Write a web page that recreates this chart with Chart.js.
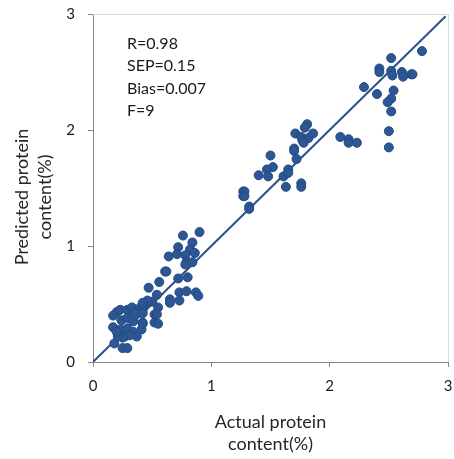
<!DOCTYPE html>
<html>
<head>
<meta charset="utf-8">
<script src="https://cdn.jsdelivr.net/npm/chart.js@4"></script>
<style>
  html, body { margin: 0; padding: 0; background: #fff; }
  #wrap { width: 454px; height: 459px; }
</style>
</head>
<body>
<div id="wrap"><canvas id="plot" width="454" height="459"></canvas></div>
<script>
const actual = [
  0.18, 0.25, 0.29, 0.17, 0.20, 0.23, 0.29, 0.33, 0.40, 0.42, 0.45, 0.50,
  0.52, 0.52, 0.24, 0.29, 0.34, 0.23, 0.29, 0.34, 0.27, 0.31, 0.37, 0.42,
  0.41, 0.35, 0.25, 0.21, 0.17, 0.20,
  0.46, 0.42, 0.42, 0.42, 0.55, 0.54, 0.55, 0.47, 0.56, 0.54,
  0.90, 0.76, 0.84, 0.72, 0.82, 0.71, 0.64, 0.78, 0.86, 0.79, 0.78, 0.84,
  0.61, 0.62, 0.80, 0.72, 0.73, 0.79, 0.87, 0.89, 0.65, 0.65, 0.73,
  1.27, 1.28, 1.27, 1.28, 1.32, 1.32, 1.50, 1.52, 1.47, 1.40, 1.48, 1.61,
  1.65, 1.65, 1.63, 1.71, 1.70, 1.70, 1.72, 1.81, 1.79, 1.76, 1.82, 1.86,
  1.77, 1.78, 1.76, 1.76, 2.09, 2.16, 2.16, 2.23,
  2.78, 2.52, 2.42, 2.42, 2.52, 2.53, 2.61, 2.62, 2.69, 2.70, 2.29, 2.40,
  2.54, 2.52, 2.49, 2.52, 2.50, 2.50
];
const predicted = [
  0.16, 0.12, 0.12, 0.30, 0.43, 0.45, 0.45, 0.47, 0.47, 0.45, 0.51, 0.52,
  0.41, 0.34, 0.36, 0.38, 0.35, 0.28, 0.29, 0.26, 0.22, 0.23, 0.22, 0.34,
  0.28, 0.42, 0.21, 0.22, 0.40, 0.26,
  0.53, 0.51, 0.42, 0.33, 0.47, 0.41, 0.33, 0.64, 0.69, 0.58,
  1.12, 1.09, 1.03, 0.99, 0.97, 0.93, 0.91, 0.92, 0.94, 0.86, 0.84, 0.86,
  0.78, 0.78, 0.73, 0.72, 0.60, 0.61, 0.60, 0.57, 0.54, 0.51, 0.53,
  1.47, 1.47, 1.43, 1.43, 1.34, 1.32, 1.78, 1.68, 1.66, 1.61, 1.60, 1.60,
  1.66, 1.63, 1.51, 1.97, 1.84, 1.82, 1.75, 2.05, 2.02, 1.94, 1.93, 1.97,
  1.91, 1.89, 1.54, 1.51, 1.94, 1.92, 1.89, 1.89,
  2.68, 2.62, 2.53, 2.50, 2.51, 2.47, 2.50, 2.46, 2.48, 2.48, 2.37, 2.31,
  2.34, 2.27, 2.24, 2.16, 1.99, 1.85
];
const fitLine = [0, 2.98];
const axisTicks = [0, 1, 2, 3];
const statsText = ['R=0.98', 'SEP=0.15', 'Bias=0.007', 'F=9'];

const points = actual.map((v, i) => ({ x: v, y: predicted[i] }));
const linePts = fitLine.map(v => ({ x: v, y: v }));

const FONT = 'Lato, "Open Sans", sans-serif';
const AXIS = '#868686';

// frame on top/right, axis titles and the stats box
const extras = {
  id: 'extras',
  beforeDatasetsDraw(chart) {
    const { ctx, chartArea: a } = chart;
    ctx.save();
    ctx.strokeStyle = '#d9d9d9';
    ctx.lineWidth = 1;
    ctx.beginPath();
    ctx.moveTo(a.left, a.top + 0.5);
    ctx.lineTo(a.right + 0.5, a.top + 0.5);
    ctx.lineTo(a.right + 0.5, a.bottom);
    ctx.stroke();
    ctx.restore();
  },
  afterDraw(chart) {
    const { ctx, chartArea: a } = chart;
    ctx.save();
    ctx.fillStyle = '#1a1a1a';
    ctx.font = '16px ' + FONT;
    ctx.textAlign = 'left';
    ctx.textBaseline = 'middle';
    statsText.forEach((t, i) => ctx.fillText(t, a.left + 34, a.top + 30 + i * 22.3));

    ctx.fillStyle = '#262626';
    ctx.font = '18px ' + FONT;
    ctx.textAlign = 'center';
    const cx = (a.left + a.right) / 2;
    ctx.fillText('Actual protein', cx, 422);
    ctx.fillText('content(%)', cx, 444);

    ctx.translate(22, 197);
    ctx.rotate(-Math.PI / 2);
    ctx.fillText('Predicted protein', 0, 0);
    ctx.fillText('content(%)', 0, 23);
    ctx.restore();
  }
};

function fixScale(s) {
  s.paddingTop = 0;
  s.paddingBottom = 0;
  s.paddingLeft = 0;
  s.paddingRight = 0;
}

const config = {
  type: 'scatter',
  data: {
    datasets: [{
      label: 'fit',
      type: 'line',
      data: linePts,
      borderColor: '#2a5189',
      borderWidth: 2,
      pointRadius: 0,
      fill: false,
      order: 2
    }, {
      label: 'samples',
      data: points,
      backgroundColor: '#2c5694',
      borderColor: '#234a82',
      borderWidth: 1,
      pointRadius: 4.5,
      order: 1
    }]
  },
  options: {
    responsive: false,
    animation: false,
    events: [],
    layout: { padding: { top: 14, right: 6, left: 0, bottom: 0 } },
    plugins: {
      legend: { display: false },
      tooltip: { enabled: false }
    },
    scales: {
      x: {
        type: 'linear',
        min: 0, max: 3,
        afterFit: s => { s.height = 97; fixScale(s); },
        afterBuildTicks: s => { s.ticks = axisTicks.map(v => ({ value: v })); },
        ticks: { color: '#1a1a1a', font: { family: FONT, size: 15 }, padding: 10 },
        grid: { drawOnChartArea: false, drawTicks: true, tickLength: 5, color: AXIS },
        border: { color: AXIS }
      },
      y: {
        type: 'linear',
        min: 0, max: 3,
        afterFit: s => { s.width = 93; fixScale(s); },
        afterBuildTicks: s => { s.ticks = axisTicks.map(v => ({ value: v })); },
        ticks: { color: '#1a1a1a', font: { family: FONT, size: 15 }, padding: 13 },
        grid: { drawOnChartArea: false, drawTicks: true, tickLength: 5, color: AXIS },
        border: { color: AXIS }
      }
    }
  },
  plugins: [extras]
};

window.addEventListener('load', function () {
  new Chart(document.getElementById('plot'), config);
});
</script>
</body>
</html>
